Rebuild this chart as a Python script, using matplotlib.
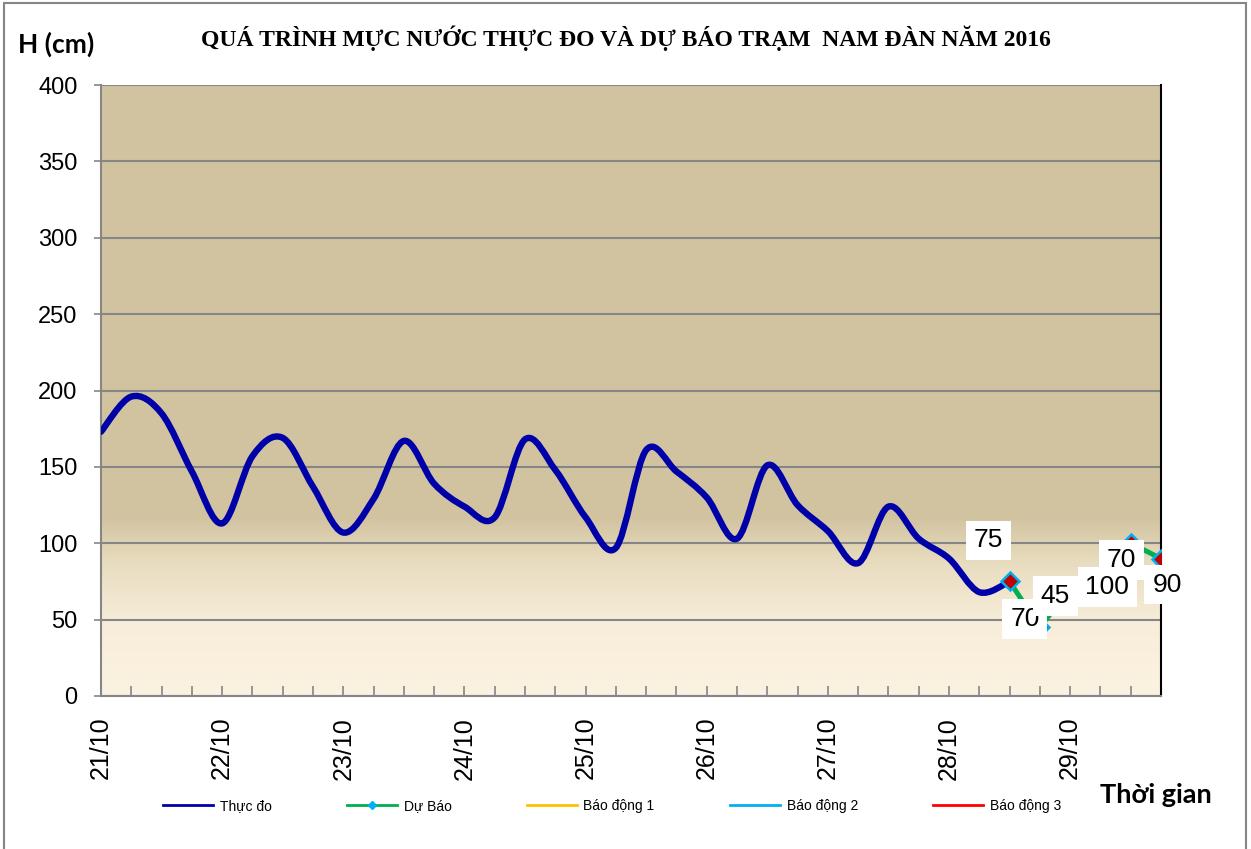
import numpy as np
import matplotlib
matplotlib.use("Agg")
import matplotlib.pyplot as plt
from matplotlib.path import Path
from matplotlib.patches import PathPatch, Rectangle
from matplotlib.colors import LinearSegmentedColormap
from matplotlib.lines import Line2D

plt.rcParams["font.family"] = ["Liberation Sans", "DejaVu Sans"]

# ---------------------------------------------------------------------------
# data: water level every 6 hours starting 21/10 00h
thuc_do = [173, 196, 185, 147, 113, 157, 169, 137, 107, 129, 167,
           139, 124, 117, 168, 148, 117, 97, 161, 147, 130, 103,
           151, 125, 108, 87, 124, 103, 90, 68, 75]
du_bao_idx = [30, 31, 32, 33, 34, 35]
du_bao = [75, 45, 70, 70, 100, 90]
du_bao_labels = ["75", "70", "45", "100", "70", "90"]
day_labels = ["21/10", "22/10", "23/10", "24/10", "25/10",
              "26/10", "27/10", "28/10", "29/10"]
n_steps = 36
steps_per_day = 4

title = "QUÁ TRÌNH MỰC NƯỚC THỰC ĐO VÀ DỰ BÁO TRẠM  NAM ĐÀN NĂM 2016"


def smooth_path(xs, ys):
    """Excel-like smoothed line: cubic Bezier through every point."""
    pts = np.column_stack([xs, ys]).astype(float)
    ext = np.vstack([pts[0], pts, pts[-1]])
    verts = [pts[0]]
    codes = [Path.MOVETO]
    for i in range(len(pts) - 1):
        p0, p1, p2, p3 = ext[i], ext[i + 1], ext[i + 2], ext[i + 3]
        c1 = p1 + (p2 - p0) / 6.0
        c2 = p2 - (p3 - p1) / 6.0
        verts += [c1, c2, p2]
        codes += [Path.CURVE4] * 3
    return Path(verts, codes)


fig = plt.figure(figsize=(12.51, 8.49), dpi=100)
ax = fig.add_axes([101 / 1251, 1 - 696 / 849, 1060 / 1251, 611 / 849])

# plot-area gradient (cream at bottom -> tan from ~110 cm up)
bg = LinearSegmentedColormap.from_list(
    "bg", [(0.0, "#FCF2E1"), (0.12, "#F7EDD9"), (0.22, "#E8DCBF"),
           (0.29, "#D2C4A1"), (1.0, "#D1C3A0")])
ax.imshow(np.linspace(0, 1, 256).reshape(-1, 1), cmap=bg, origin="lower",
          extent=[0, 1, 0, 1], transform=ax.transAxes, aspect="auto",
          zorder=0)

ax.set_xlim(0, n_steps - 1)
ax.set_ylim(0, 400)
ax.set_yticks(np.arange(0, 401, 50))
ax.yaxis.grid(True, color="#868686", linewidth=1.5, zorder=1)
ax.set_axisbelow(True)

x_obs = np.arange(len(thuc_do))
ax.add_patch(PathPatch(smooth_path(x_obs, thuc_do), facecolor="none",
                       edgecolor="#0000A8", linewidth=4.6,
                       capstyle="round", joinstyle="round", zorder=3))
ax.plot(du_bao_idx, du_bao, color="#00B050", linewidth=3.6, zorder=4,
        marker="D", markersize=9, markerfacecolor="#C00000",
        markeredgecolor="#00B0F0", markeredgewidth=1.8)

# data labels (white boxes)
offsets = [(-21, 41), (-15, 8), (-15, -7), (7, 2), (-9, -17), (6, -26)]
zorders = [6, 6, 6, 7, 5, 6]
for xi, yi, txt, off, zo in zip(du_bao_idx, du_bao, du_bao_labels,
                                offsets, zorders):
    ax.annotate(txt, (xi, yi), xytext=off, textcoords="offset pixels",
                ha="center", va="center", fontsize=19, zorder=zo,
                annotation_clip=False,
                bbox=dict(boxstyle="square,pad=0.3", fc="white", ec="none"))

# axes styling
ax.spines["top"].set_visible(False)
ax.spines["left"].set_color("#868686")
ax.spines["left"].set_linewidth(1.5)
ax.spines["bottom"].set_color("#868686")
ax.spines["bottom"].set_linewidth(1.5)
ax.spines["right"].set_color("black")
ax.spines["right"].set_linewidth(1.5)

ax.tick_params(axis="y", direction="out", length=5, width=1.2,
               color="#868686", labelsize=17, pad=12)
ax.set_xticks(np.arange(0, n_steps - 1, steps_per_day))
ax.set_xticklabels(day_labels, rotation=90, ha="center", va="top")
ax.set_xticks(np.arange(0, n_steps), minor=True)
ax.tick_params(axis="x", which="both", direction="in", length=7, width=1.2,
               color="#868686", labelsize=18, pad=15)

# texts
fig.text(0.5, 1 - 38 / 849, title, ha="center", va="center",
         fontsize=17, fontweight="bold", family="Liberation Serif")
fig.text(18 / 1251, 1 - 44 / 849, "H (cm)", ha="left", va="center",
         fontsize=19, fontweight="bold", family="Lato")
fig.text(1100 / 1251, 1 - 795 / 849, "Thời gian", ha="left", va="center",
         fontsize=19.5, fontweight="bold", family="Lato")

# legend
handles = [
    Line2D([], [], color="#0000A8", linewidth=2),
    Line2D([], [], color="#00B050", linewidth=2, marker="D", markersize=4,
           markerfacecolor="#00B0F0", markeredgecolor="#00B0F0"),
    Line2D([], [], color="#FFC000", linewidth=2),
    Line2D([], [], color="#00B0F0", linewidth=2),
    Line2D([], [], color="#FF0000", linewidth=2),
]
names = ["Thực đo", "Dự Báo", "Báo động 1", "Báo động 2", "Báo động 3"]
fig.legend(handles, names, ncol=5, loc="center",
           bbox_to_anchor=(612 / 1251, 1 - 806 / 849), frameon=False,
           fontsize=10, handlelength=3.6, columnspacing=5.4,
           handletextpad=0.5)

# outer chart frame
fig.patches.append(Rectangle((0.003, -0.01), 0.993, 1.007,
                             transform=fig.transFigure, fill=False,
                             edgecolor="#868686", linewidth=1.5))

fig.savefig("out.png", dpi=100)
